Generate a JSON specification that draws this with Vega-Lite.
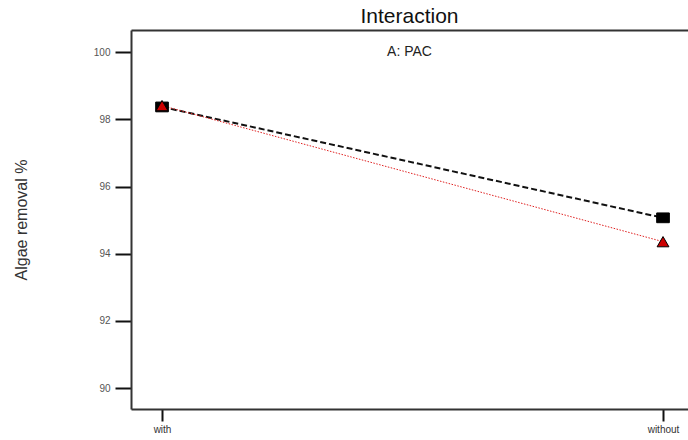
{
  "$schema": "https://vega.github.io/schema/vega-lite/v6.json",
  "width": 557,
  "height": 379,
  "autosize": {"type": "none"},
  "padding": {"left": 131, "top": 30, "right": 0, "bottom": 31},
  "background": "white",
  "config": {
    "view": {"stroke": null},
    "font": "Liberation Sans"
  },
  "title": {
    "text": "Interaction",
    "subtitle": "A: PAC",
    "fontSize": 21,
    "fontWeight": "normal",
    "color": "#111",
    "subtitleFontSize": 14,
    "subtitleColor": "#222",
    "subtitlePadding": 18,
    "anchor": "middle",
    "offset": -29
  },
  "data": {
    "values": [
      {"level": "with", "series": "B-", "removal": 98.37},
      {"level": "without", "series": "B-", "removal": 95.07},
      {"level": "with", "series": "B+", "removal": 98.41},
      {"level": "without", "series": "B+", "removal": 94.36}
    ]
  },
  "resolve": {"axis": {"x": "independent"}},
  "layer": [
    {
      "mark": {"type": "line"},
      "encoding": {
        "x": {
          "field": "level", "type": "nominal", "sort": ["with", "without"],
          "scale": {"type": "point", "padding": 0.0559, "align": 0.554},
          "axis": {"orient": "top", "title": null, "labels": false, "ticks": false, "grid": false, "domainColor": "#333", "domainWidth": 2}
        },
        "y": {
          "field": "removal", "type": "quantitative",
          "scale": {"domain": [89.38, 100.66], "nice": false, "zero": false}
        },
        "color": {"field": "series", "type": "nominal", "scale": {"domain": ["B-", "B+"], "range": ["#111111", "#e02020"]}, "legend": null},
        "strokeDash": {"field": "series", "type": "nominal", "scale": {"domain": ["B-", "B+"], "range": [[6, 3], [1.5, 1.5]]}, "legend": null},
        "strokeWidth": {"field": "series", "type": "nominal", "scale": {"domain": ["B-", "B+"], "range": [2, 1]}, "legend": null}
      }
    },
    {
      "mark": {"type": "point", "filled": true, "stroke": "#000", "strokeWidth": 1, "opacity": 1},
      "encoding": {
        "x": {
          "field": "level", "type": "nominal", "sort": ["with", "without"],
          "axis": {"orient": "bottom", "title": null, "labelAngle": 0, "labelFontSize": 10, "labelColor": "#333", "labelPadding": 3, "tickSize": 12, "tickWidth": 2, "tickColor": "#111", "domainColor": "#333", "domainWidth": 2, "grid": false}
        },
        "y": {
          "field": "removal", "type": "quantitative",
          "axis": {"title": "Algae removal %", "titleFontSize": 16, "titleFontWeight": "normal", "titleColor": "#333", "titlePadding": 64, "values": [90, 92, 94, 96, 98, 100], "labelFontSize": 10, "labelColor": "#555", "labelPadding": 5, "tickSize": 16, "tickWidth": 2, "tickColor": "#111", "domainColor": "#333", "domainWidth": 2, "grid": false}
        },
        "shape": {"field": "series", "type": "nominal", "scale": {"domain": ["B-", "B+"], "range": ["M-1.3,-1H1.3V1H-1.3Z", "triangle-up"]}, "legend": null},
        "fill": {"field": "series", "type": "nominal", "scale": {"domain": ["B-", "B+"], "range": ["#000000", "#cc0000"]}, "legend": null},
        "size": {"field": "series", "type": "nominal", "scale": {"domain": ["B-", "B+"], "range": [95, 140]}, "legend": null}
      }
    }
  ]
}
